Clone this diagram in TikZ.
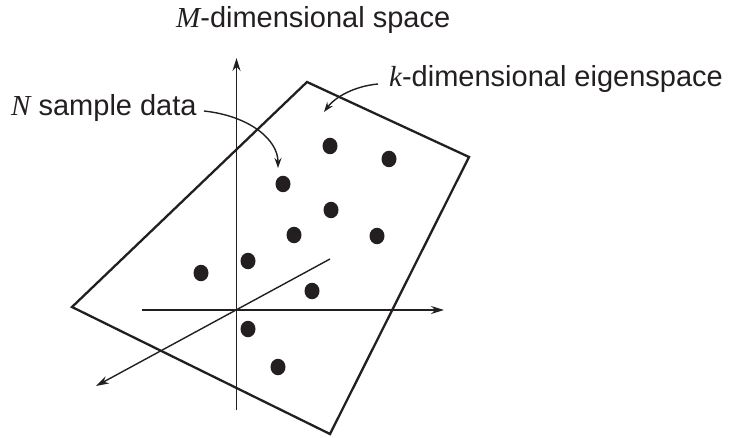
\documentclass[tikz,border=0pt]{standalone}
\usepackage{fontspec}
\setmainfont{Liberation Sans}
\newfontfamily\tmsit{Liberation Serif}[ItalicFont={Liberation Serif Italic}]
\usetikzlibrary{arrows.meta,shapes.geometric}
\newcommand{\vr}[1]{{\tmsit\itshape #1}}
\begin{document}
\begin{tikzpicture}[x=1pt,y=-1pt,
  axis/.style={line width=1.4pt,draw={rgb,255:red,35;green,31;blue,32}},
  axarrow/.style={axis,-{Stealth[length=13pt,width=8pt]}},
  plane/.style={line width=2.3pt,draw={rgb,255:red,35;green,31;blue,32},line join=miter},
  dot/.style={ellipse,fill={rgb,255:red,35;green,31;blue,32},inner sep=0pt,minimum width=15pt,minimum height=16.5pt},
  lbl/.style={anchor=base west,inner sep=0pt,font=\fontsize{29}{32}\selectfont,text={rgb,255:red,35;green,31;blue,32}},
  callout/.style={line width=1.4pt,draw={rgb,255:red,35;green,31;blue,32},-{Stealth[length=10pt,width=7pt]}}]
\useasboundingbox (0,0) rectangle (730,438);
% plane
\coordinate (pt) at (307,82);
\coordinate (pr) at (469,157);
\coordinate (pb) at (330,434);
\coordinate (pl) at (72,307);
\draw[plane] (pt) -- (pr) -- (pb) -- (pl) -- cycle;
% axes
\coordinate (o) at (236.5,310);
\coordinate (vb) at (236.5,410);
\coordinate (vt) at (236.5,58);
\coordinate (hl) at (142,310);
\coordinate (hr) at (444,310);
\coordinate (dn) at (330,259);
\coordinate (df) at (96,386);
\draw[axarrow] (vb) -- (vt);
\draw[axarrow] (hl) -- (hr);
\draw[axarrow] (dn) -- (df);
% dots
\foreach \n/\x/\y in {a/330/146,b/389/159,c/283/184,d/331/210,e/294/235,f/377/236,g/201/273,h/248/261,i/312/291,j/248/329,k/278/367}
  \node[dot] (\n) at (\x,\y) {};
% labels
\node[lbl] (mlab) at (176,28) {\vr{M}-dimensional space};
\node[lbl] (klab) at (389,87) {\vr{k}-dimensional eigenspace};
\node[lbl] (nlab) at (11,116) {\vr{N} sample data};
% callouts
\coordinate (ks) at (378,84);
\coordinate (ke) at (324,112);
\coordinate (ns) at (204,111);
\coordinate (ne) at (278,168);
\draw[callout] (ks) .. controls (356,86) and (336,96) .. (ke);
\draw[callout] (ns) .. controls (250,116) and (278,140) .. (ne);
\end{tikzpicture}
\end{document}
